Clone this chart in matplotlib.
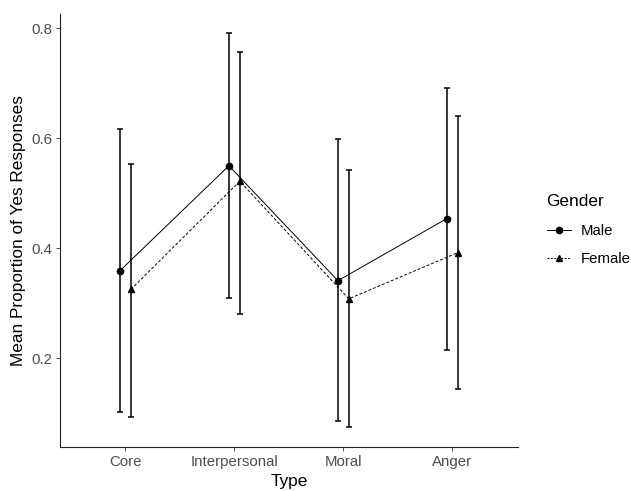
import numpy as np
import matplotlib.pyplot as plt
from matplotlib.lines import Line2D

plt.rcParams['font.family'] = ['Liberation Sans', 'DejaVu Sans']

types = ['Core', 'Interpersonal', 'Moral', 'Anger']
male_mean = [0.359, 0.550, 0.341, 0.454]
male_low = [0.102, 0.309, 0.085, 0.215]
male_high = [0.616, 0.791, 0.598, 0.691]
female_mean = [0.325, 0.522, 0.308, 0.392]
female_low = [0.093, 0.281, 0.075, 0.144]
female_high = [0.554, 0.756, 0.542, 0.641]

fig = plt.figure(figsize=(6.31, 4.91), dpi=100)
ax = fig.add_axes([60 / 631, 43.7 / 491, 457.7 / 631, 433.3 / 491])

x = np.arange(1, len(types) + 1)
dodge = 0.05


def draw(xs, mean, low, high, ls, marker):
    mean = np.array(mean)
    err = [mean - np.array(low), np.array(high) - mean]
    ax.errorbar(xs, mean, yerr=err, fmt='none', ecolor='black',
                elinewidth=1.1, capsize=2.0, capthick=1.1)
    ax.plot(xs, mean, color='black', linestyle=ls, linewidth=0.7,
            marker=marker, markersize=4.5)


draw(x - dodge, male_mean, male_low, male_high, '-', 'o')
draw(x + dodge, female_mean, female_low, female_high, (0, (3, 2)), '^')

ax.set_xlim(0.4, 4.6)
ax.set_ylim(0.038, 0.826)
ax.set_xticks(x)
ax.set_xticklabels(types)
ax.set_yticks([0.2, 0.4, 0.6, 0.8])
ax.set_yticklabels(['0.2', '0.4', '0.6', '0.8'])
ax.tick_params(colors='#333333', labelcolor='#4D4D4D', labelsize=10.8,
               length=3, width=0.6, pad=2.5)
for s in ['top', 'right']:
    ax.spines[s].set_visible(False)
for s in ['left', 'bottom']:
    ax.spines[s].set_linewidth(0.8)
    ax.spines[s].set_color('#222222')

ax.set_xlabel('Type', fontsize=12.4, labelpad=4)
ax.set_ylabel('Mean Proportion of Yes Responses', fontsize=12.4, labelpad=4)

handles = [
    Line2D([], [], color='black', linestyle='-', linewidth=0.7,
           marker='o', markersize=4.5),
    Line2D([], [], color='black', linestyle=(0, (2, 1.5)), linewidth=0.7,
           marker='^', markersize=4.5),
]
leg = fig.legend(handles, ['Male', 'Female'], title='Gender',
                 loc='upper left', bbox_to_anchor=(533 / 631, 1 - 181 / 491),
                 frameon=False, fontsize=10.8, title_fontsize=12.4,
                 handlelength=1.6, handletextpad=0.7, labelspacing=0.95)
leg._legend_box.align = 'left'

fig.savefig('out.png', dpi=100)
